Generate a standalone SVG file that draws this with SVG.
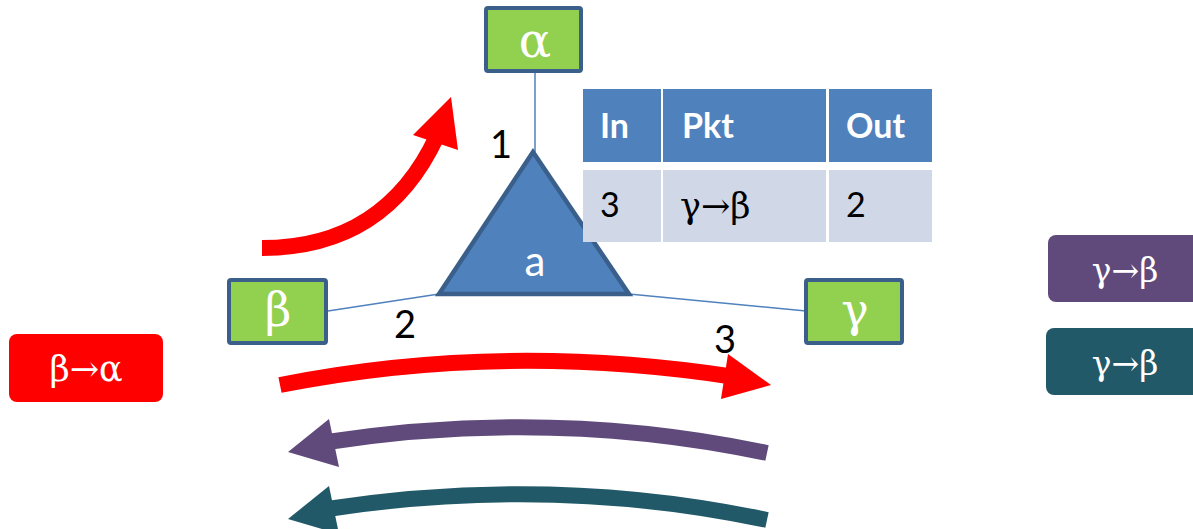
<svg xmlns="http://www.w3.org/2000/svg" width="1193" height="529" viewBox="0 0 1193 529">
<style>
.box{fill:#92D050;stroke:#3A5F8B;stroke-width:4}
.link{stroke:#4F81BD;stroke-width:1.5;fill:none}
.greek{font-family:"DejaVu Serif","Liberation Serif",serif;fill:#fff;text-anchor:middle}
.num{font-family:Lato,"Liberation Sans",sans-serif;font-size:38px;fill:#000;text-anchor:middle}
.th{font-family:Lato,"Liberation Sans",sans-serif;font-size:34px;font-weight:bold;fill:#fff}
.td{font-family:Lato,"Liberation Sans",sans-serif;font-size:34px;fill:#000}
.hdr{fill:#4F81BD}
.row{fill:#D0D8E8}
.shaft{fill:none;stroke-width:16}
</style>
<rect width="1193" height="529" fill="#fff"/>
<g id="connectors">
<line class="link" x1="535" y1="73" x2="535" y2="152"/>
<line class="link" x1="328" y1="311" x2="439" y2="294"/>
<line class="link" x1="629" y1="294" x2="806" y2="311"/>
</g>
<g id="node-alpha">
<rect class="box" x="486" y="8" width="95" height="63" rx="2"/>
<text class="greek" x="535" y="57" font-size="48">α</text>
</g>
<g id="node-beta">
<rect class="box" x="229" y="280" width="97" height="63" rx="2"/>
<text class="greek" x="278" y="326" font-size="46">β</text>
</g>
<g id="node-gamma">
<rect class="box" x="806" y="280" width="96" height="63" rx="2"/>
<text class="greek" x="855" y="326" font-size="46">γ</text>
</g>
<g id="node-a">
<polygon points="533,152 439,294 629,294" fill="#4F81BD" stroke="#3A5F8B" stroke-width="4.5" stroke-linejoin="miter"/>
<text x="535" y="276" font-family="Lato,'Liberation Sans',sans-serif" font-size="42" fill="#fff" text-anchor="middle">a</text>
</g>
<g id="port-labels">
<text class="num" x="501" y="158">1</text>
<text class="num" x="405" y="338">2</text>
<text class="num" x="725" y="353">3</text>
</g>
<g id="table">
<rect class="hdr" x="583" y="89" width="78" height="73"/>
<rect class="hdr" x="663" y="89" width="163" height="73"/>
<rect class="hdr" x="829" y="89" width="103" height="73"/>
<rect class="row" x="583" y="170" width="78" height="72"/>
<rect class="row" x="663" y="170" width="163" height="72"/>
<rect class="row" x="829" y="170" width="103" height="72"/>
<text class="th" x="600" y="138">In</text>
<text class="th" x="682" y="138">Pkt</text>
<text class="th" x="846" y="138">Out</text>
<text class="td" x="600" y="217">3</text>
<text x="680" y="218" font-family="'DejaVu Serif','Liberation Serif',serif" font-size="35" fill="#000">γ→β</text>
<text class="td" x="846" y="217">2</text>
</g>
<g id="arrows">
<path class="shaft" stroke="#FF0000" d="M262,248 Q385,248 437,136"/>
<polygon fill="#FF0000" points="451,97 413,135 458,150"/>
<path class="shaft" stroke="#FF0000" d="M280,385 Q500,341 735,377"/>
<polygon fill="#FF0000" points="771,385 728,354 721,399"/>
<path class="shaft" stroke="#604A7B" stroke-width="15" d="M767,453 Q550,407 320,443"/>
<polygon fill="#604A7B" points="288,452 329,419 339,467"/>
<path class="shaft" stroke="#215968" stroke-width="15" d="M767,520 Q550,474 320,510"/>
<polygon fill="#215968" points="288,519 329,486 339,534"/>
</g>
<g id="legend-red">
<rect x="9" y="334" width="154" height="68" rx="8" fill="#FF0000"/>
<text class="greek" x="86" y="381" font-size="35">β→α</text>
</g>
<g id="legend-purple">
<rect x="1048" y="235" width="160" height="67" rx="8" fill="#604A7B"/>
<text class="greek" x="1125" y="282" font-size="33">γ→β</text>
</g>
<g id="legend-teal">
<rect x="1046" y="328" width="160" height="67" rx="8" fill="#215968"/>
<text class="greek" x="1125" y="375" font-size="33">γ→β</text>
</g>
</svg>
